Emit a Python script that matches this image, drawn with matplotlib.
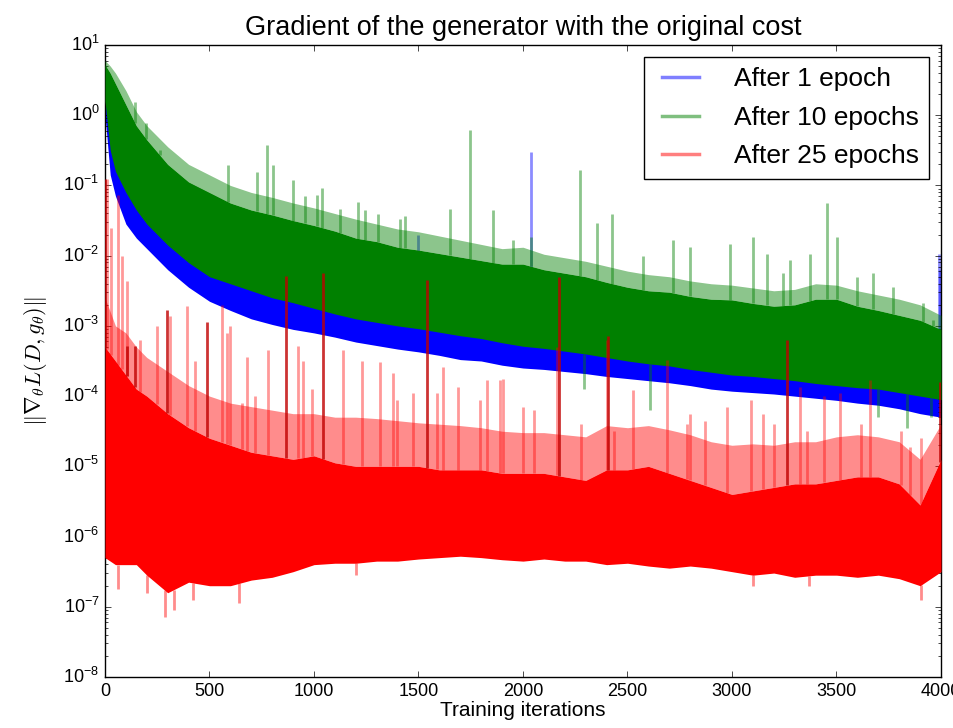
import numpy as np
import matplotlib
matplotlib.use('Agg')
import matplotlib.pyplot as plt
from matplotlib.lines import Line2D

plt.style.use('classic')
plt.rcParams['font.family'] = ['Liberation Sans', 'DejaVu Sans']
plt.rcParams['figure.facecolor'] = 'white'
plt.rcParams['savefig.facecolor'] = 'white'

# all gradient norms as log10 values
env_x = [0, 25, 50, 100, 150, 200, 300, 400, 500, 600, 700, 800, 900, 1000,
         1100, 1200, 1300, 1400, 1500, 1600, 1700, 1800, 1900, 2000, 2100,
         2200, 2300, 2400, 2500, 2600, 2700, 2800, 2900, 3000, 3100, 3200,
         3300, 3400, 3500, 3600, 3700, 3800, 3900, 4000]

# After 1 epoch (blue): visible lower edge, top is hidden under green
blue_low = [0.0, -0.85, -1.15, -1.55, -1.75, -1.9, -2.2, -2.45, -2.65, -2.78,
            -2.9, -2.98, -3.05, -3.1, -3.16, -3.23, -3.28, -3.33, -3.37, -3.42,
            -3.48, -3.5, -3.56, -3.6, -3.62, -3.65, -3.68, -3.72, -3.75, -3.78,
            -3.81, -3.85, -3.9, -3.93, -3.95, -3.97, -4.0, -4.03, -4.06, -4.1,
            -4.13, -4.18, -4.25, -4.3]
blue_high = [0.45, -0.2, -0.5, -0.8, -1.05, -1.25, -1.55, -1.8, -2.0, -2.1,
             -2.2, -2.3, -2.37, -2.45, -2.53, -2.6, -2.65, -2.7, -2.74, -2.79,
             -2.84, -2.88, -2.94, -2.99, -3.02, -3.06, -3.1, -3.15, -3.2, -3.24,
             -3.27, -3.32, -3.36, -3.4, -3.42, -3.45, -3.48, -3.52, -3.55, -3.58,
             -3.6, -3.65, -3.7, -3.75]
blue_spike_x = [1500, 2040, 3990, 3996]
blue_spike_top = [-1.7, -0.52, -1.97, -2.2]

# After 10 epochs (green): lower edge, dense core top, lighter fringe top
green_low = [0.2, -0.5, -0.8, -1.1, -1.35, -1.55, -1.85, -2.1, -2.3, -2.4,
             -2.5, -2.6, -2.67, -2.75, -2.83, -2.9, -2.95, -3.0, -3.04, -3.09,
             -3.14, -3.18, -3.24, -3.29, -3.32, -3.36, -3.4, -3.45, -3.5, -3.54,
             -3.57, -3.62, -3.66, -3.7, -3.72, -3.75, -3.78, -3.82, -3.85, -3.88,
             -3.9, -3.95, -4.0, -4.05]
green_high = [0.72, 0.6, 0.45, 0.15, -0.15, -0.35, -0.7, -0.95, -1.1, -1.25,
              -1.35, -1.42, -1.5, -1.57, -1.65, -1.75, -1.8, -1.88, -1.92, -1.97,
              -2.02, -2.07, -2.12, -2.12, -2.2, -2.25, -2.3, -2.38, -2.45, -2.5,
              -2.52, -2.58, -2.62, -2.63, -2.68, -2.72, -2.7, -2.62, -2.62, -2.72,
              -2.78, -2.85, -2.92, -3.05]
green_fringe = [0.78, 0.7, 0.6, 0.35, 0.05, -0.15, -0.45, -0.7, -0.85, -1.0,
                -1.1, -1.17, -1.25, -1.32, -1.4, -1.48, -1.55, -1.62, -1.66, -1.72,
                -1.78, -1.84, -1.9, -1.88, -1.98, -2.03, -2.08, -2.15, -2.22, -2.27,
                -2.3, -2.36, -2.4, -2.42, -2.46, -2.5, -2.48, -2.4, -2.42, -2.5,
                -2.56, -2.62, -2.7, -2.85]
green_spike_x = [144, 196, 263, 590, 726, 774, 806, 900, 957, 1013, 1037,
                 1124, 1212, 1244, 1308, 1412, 1435, 1651, 1746, 1858, 1954,
                 2040, 2273, 2353, 2425, 2576, 2719, 2799, 2990, 3102, 3166,
                 3245, 3278, 3373, 3453, 3501, 3596, 3676, 3772, 3915, 3963]
green_spike_top = [0.19, -0.11, -0.5, -0.71, -0.81, -0.42, -0.71, -0.92, -1.15,
                   -1.14, -1.04, -1.33, -1.24, -1.35, -1.4, -1.48, -1.44, -1.33,
                   -0.21, -1.35, -1.78, -1.73, -0.78, -1.54, -1.4, -2.0, -1.78,
                   -1.87, -1.83, -1.73, -1.97, -2.24, -2.06, -1.97, -1.25, -1.73,
                   -2.3, -2.25, -2.44, -2.68, -2.92]
green_dip_x = [2290, 2608, 3700, 3835, 3950]
green_dip_bottom = [-3.9, -4.2, -4.3, -4.45, -4.3]

# After 25 epochs (red): lower edge, dense core top, pink haze top
red_low = [-6.3, -6.35, -6.4, -6.4, -6.4, -6.55, -6.8, -6.65, -6.7, -6.7,
           -6.62, -6.58, -6.5, -6.4, -6.38, -6.38, -6.35, -6.35, -6.32, -6.3,
           -6.28, -6.3, -6.33, -6.35, -6.32, -6.35, -6.35, -6.4, -6.38, -6.42,
           -6.45, -6.42, -6.45, -6.5, -6.55, -6.52, -6.58, -6.55, -6.55, -6.58,
           -6.55, -6.6, -6.7, -6.5]
red_high = [-3.3, -3.4, -3.5, -3.7, -3.9, -4.0, -4.25, -4.45, -4.6, -4.7,
            -4.8, -4.85, -4.9, -4.85, -4.95, -5.0, -5.0, -5.0, -5.0, -5.05,
            -5.05, -5.05, -5.1, -5.1, -5.1, -5.15, -5.2, -5.05, -5.05, -5.0,
            -5.1, -5.2, -5.3, -5.4, -5.35, -5.3, -5.25, -5.25, -5.2, -5.15,
            -5.15, -5.25, -5.55, -4.9]
red_haze = [-2.6, -2.8, -3.0, -3.1, -3.3, -3.45, -3.65, -3.85, -4.0, -4.1,
            -4.15, -4.2, -4.25, -4.25, -4.3, -4.3, -4.32, -4.35, -4.38, -4.4,
            -4.42, -4.45, -4.5, -4.52, -4.52, -4.55, -4.58, -4.42, -4.45, -4.42,
            -4.48, -4.55, -4.65, -4.7, -4.68, -4.7, -4.65, -4.65, -4.58, -4.55,
            -4.58, -4.65, -4.9, -4.4]
red_dark_x = [2, 104, 144, 295, 487, 864, 1045, 1540, 2170, 2409, 3265, 3995]
red_dark_top = [-0.91, -3.29, -3.29, -2.77, -2.95, -2.29, -2.25, -2.35, -2.3,
                -3.15, -3.2, -3.8]
red_pale_x = [8, 30, 64, 80, 104, 168, 247, 311, 391, 431, 558, 582, 598, 654,
              678, 718, 782, 925, 949, 989, 1140, 1228, 1316, 1380, 1396, 1476,
              1587, 1619, 1690, 1795, 1826, 1890, 1906, 2001, 2053, 2161, 2276,
              2400, 2435, 2528, 2688, 2786, 2799, 2871, 2974, 3090, 3150, 3201,
              3325, 3360, 3440, 3517, 3615, 3661, 3807, 3852, 3903]
red_pale_top = [-0.91, -1.6, -1.14, -2.0, -2.36, -3.2, -3.0, -2.86, -2.72, -3.5,
                -2.7, -3.1, -3.0, -4.1, -3.45, -4.0, -3.35, -3.29, -3.5, -3.9,
                -3.35, -3.5, -3.52, -3.67, -4.05, -3.95, -3.95, -3.58, -3.87,
                -4.05, -3.77, -3.77, -3.76, -4.15, -4.2, -3.3, -4.4, -3.2, -4.5,
                -3.92, -3.49, -4.4, -4.25, -4.35, -4.15, -4.06, -4.25, -4.4,
                -3.87, -4.5, -4.0, -3.96, -4.4, -3.77, -4.5, -4.72, -4.6]
red_dip_x = [60, 200, 285, 330, 420, 640, 1200, 3100, 3370, 3905]
red_dip_bottom = [-6.75, -6.8, -7.15, -7.05, -6.9, -6.95, -6.55, -6.7, -6.7, -6.9]

labels = ['After 1 epoch', 'After 10 epochs', 'After 25 epochs']
colors = ['#0000ff', '#008000', '#ff0000']


def draw_band(ax, low, high, color, alpha, z):
    ax.fill_between(env_x, np.power(10.0, low), np.power(10.0, high),
                    color=color, alpha=alpha, lw=0, zorder=z)


def draw_spikes(ax, xs, tops, ref, color, alpha, z):
    base = np.interp(xs, env_x, ref)
    ax.vlines(xs, np.power(10.0, base), np.power(10.0, tops),
              color=color, alpha=alpha, lw=2.0, zorder=z)


fig = plt.figure(figsize=(9.54, 7.28), dpi=100)
ax = fig.add_axes([105 / 954, 51 / 728, 836 / 954, 632 / 728])
ax.set_yscale('log')

draw_band(ax, blue_low, blue_high, colors[0], 1.0, 2)
draw_spikes(ax, blue_spike_x, blue_spike_top, blue_high, colors[0], 0.45, 2)

draw_band(ax, green_high, green_fringe, colors[1], 0.45, 3)
draw_band(ax, green_low, green_high, colors[1], 1.0, 3)
draw_spikes(ax, green_spike_x, green_spike_top, green_high, colors[1], 0.45, 3)
draw_spikes(ax, green_dip_x, green_dip_bottom, green_low, colors[1], 0.45, 3)

draw_band(ax, red_high, red_haze, colors[2], 0.45, 4)
draw_band(ax, red_low, red_high, colors[2], 1.0, 4)
draw_spikes(ax, red_pale_x, red_pale_top, red_high, colors[2], 0.4, 4)
draw_spikes(ax, red_dark_x, red_dark_top, red_high, '#c00000', 0.8, 4)
draw_spikes(ax, red_dip_x, red_dip_bottom, red_low, colors[2], 0.45, 4)

ax.set_xlim(0, 4000)
ax.set_ylim(1e-8, 1e1)
ax.set_xticks(range(0, 4001, 500))
ax.tick_params(labelsize=13)

ax.set_title('Gradient of the generator with the original cost',
             fontsize=19.5, pad=7)
ax.set_xlabel('Training iterations', fontsize=15, labelpad=1)
ax.set_ylabel(r'$\|\nabla_\theta L(D, g_\theta)\|$', fontsize=16, labelpad=10)

handles = [Line2D([], [], color=c, alpha=0.5, lw=2.5) for c in colors]
ax.legend(handles, labels, loc='upper right', fontsize=19,
          handletextpad=1.0, labelspacing=0.55, borderaxespad=0.45)

fig.savefig('out.png', dpi=100)
